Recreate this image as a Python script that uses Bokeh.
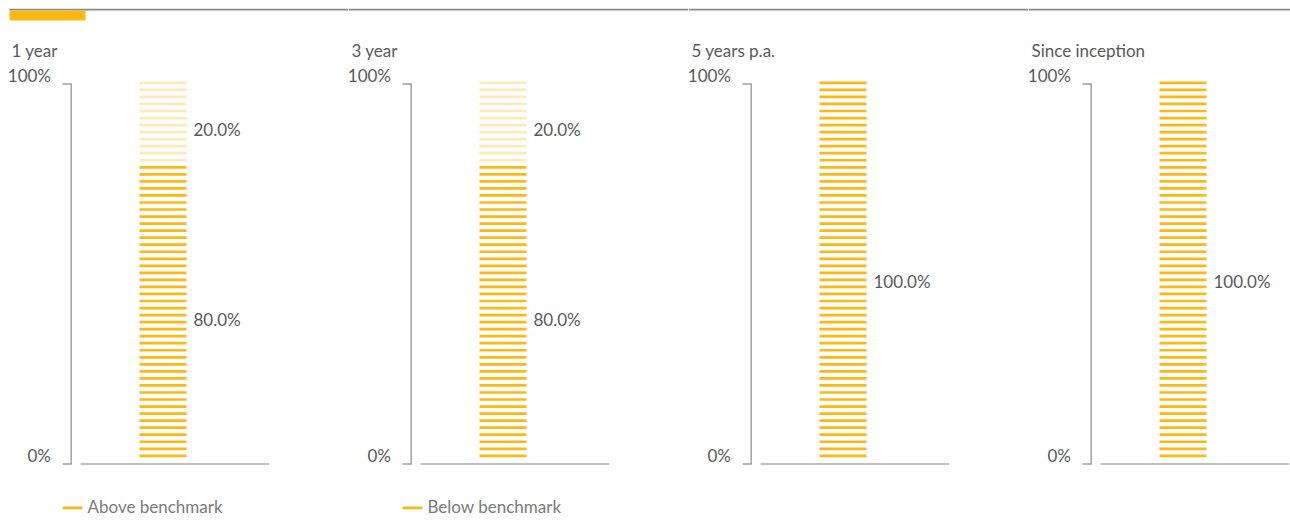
import numpy as np
from bokeh.plotting import figure
from bokeh.layouts import row
from bokeh.models import Range1d, ColumnDataSource
from bokeh.core.properties import value
from bokeh.embed import file_html
from bokeh.resources import INLINE

# ---- data ----
categories = ["1 year", "3 year", "5 years p.a.", "Since inception"]
above = [80.0, 80.0, 100.0, 100.0]   # Above benchmark (%)
below = [20.0, 20.0, 0.0, 0.0]       # Below benchmark (%)
series_names = ["Above benchmark", "Below benchmark"]
tick_values = [0, 100]
tick_labels = ["0%", "100%"]

# ---- style ----
ORANGE = "#FDB813"
TEXT = "#595959"
LEGEND_TEXT = "#7a7a7a"
AXIS = "#9e9e9e"
FONT = value("Lato")
WIDTHS = [340, 340, 340, 262]
H = 511
PPU = 3.8            # pixels per percent
ZERO_PX = 455.5      # in-figure pixel row of 0 %
N_STRIPES = 54
STRIPE_T = 2.7 / PPU
STRIPE_OFF = 2.5 / PPU
BAR_L, BAR_R = 131, 178
LABEL_X = 185
LABEL_DROP = 7 / PPU


def Y(px):
    return (ZERO_PX - px) / PPU


figs = []
for i, cat in enumerate(categories):
    w = WIDTHS[i]
    p = figure(width=w, height=H, output_backend="svg", toolbar_location=None,
               x_range=Range1d(0, w), y_range=Range1d(Y(H), Y(0)),
               min_border=0, outline_line_color=None,
               background_fill_color="white", border_fill_color="white")
    p.axis.visible = False
    p.grid.visible = False

    # header rule and accent
    p.segment(x0=[1 if i == 0 else 0], x1=[w], y0=[Y(1)], y1=[Y(1)],
              line_color="#8a8a8a", line_width=2)
    if i == 0:
        p.quad(left=[1], right=[77], top=[Y(2)], bottom=[Y(12)], fill_color=ORANGE, line_color=None)

    # title
    p.text(x=[3], y=[Y(41.5)], text=[cat], text_font=FONT, text_font_size="17px",
           text_color=TEXT, text_baseline="middle", text_align="left")

    # y axis (line + ticks + labels)
    p.segment(x0=[62.7], x1=[62.7], y0=[tick_values[0]], y1=[tick_values[-1]],
              line_color=AXIS, line_width=1.4)
    p.segment(x0=[54] * len(tick_values), x1=[63.3] * len(tick_values),
              y0=tick_values, y1=tick_values, line_color=AXIS, line_width=1.4)
    p.text(x=[42.5] * len(tick_values), y=tick_values, text=tick_labels, text_font=FONT,
           text_font_size="17px", text_color=TEXT, text_align="right",
           text_baseline="middle", y_offset=-8.5)
    # x axis line
    p.segment(x0=[72], x1=[260.7], y0=[0], y1=[0], line_color="#aaaaaa", line_width=1.7)

    # stacked segments
    segs = []
    base = 0.0
    for val, alpha in ((above[i], 1.0), (below[i], 0.3)):
        if val > 0:
            segs.append((base, base + val, alpha, val))
        base += val
    total = base

    period = 100.0 / N_STRIPES
    tops, bots, alphas = [], [], []
    for k in range(N_STRIPES):
        top = 100.0 + STRIPE_OFF - k * period
        if top > total + STRIPE_OFF + 1e-9:
            continue
        seg = None
        for s in segs:
            if s[0] < top:
                seg = s
        if seg is None:
            continue
        tops.append(top)
        bots.append(top - STRIPE_T)
        alphas.append(seg[2])
    src = ColumnDataSource(dict(left=[BAR_L] * len(tops), right=[BAR_R] * len(tops),
                                top=tops, bottom=bots, alpha=alphas))
    p.quad(left="left", right="right", top="top", bottom="bottom", source=src,
           fill_color=ORANGE, fill_alpha="alpha", line_color=None)

    # value labels
    lx, ly, lt = [], [], []
    for s in segs:
        lx.append(LABEL_X)
        ly.append((s[0] + s[1]) / 2 - LABEL_DROP)
        lt.append(f"{s[3]:.1f}%")
    p.text(x=lx, y=ly, text=lt, text_font=FONT, text_font_size="17px", text_color=TEXT,
           text_baseline="middle", text_align="left")

    # legend entries (one per first two panels)
    if i < len(series_names):
        p.segment(x0=[54], x1=[74], y0=[Y(499.3)], y1=[Y(499.3)], line_color=ORANGE, line_width=2.8)
        p.text(x=[79], y=[Y(498)], text=[series_names[i]], text_font=FONT, text_font_size="17px",
               text_color=LEGEND_TEXT, text_baseline="middle", text_align="left")

    figs.append(p)

layout = row(*figs, spacing=0, margin=(8, 0, 0, 8))
open("out.html", "w").write(file_html(layout, INLINE))
